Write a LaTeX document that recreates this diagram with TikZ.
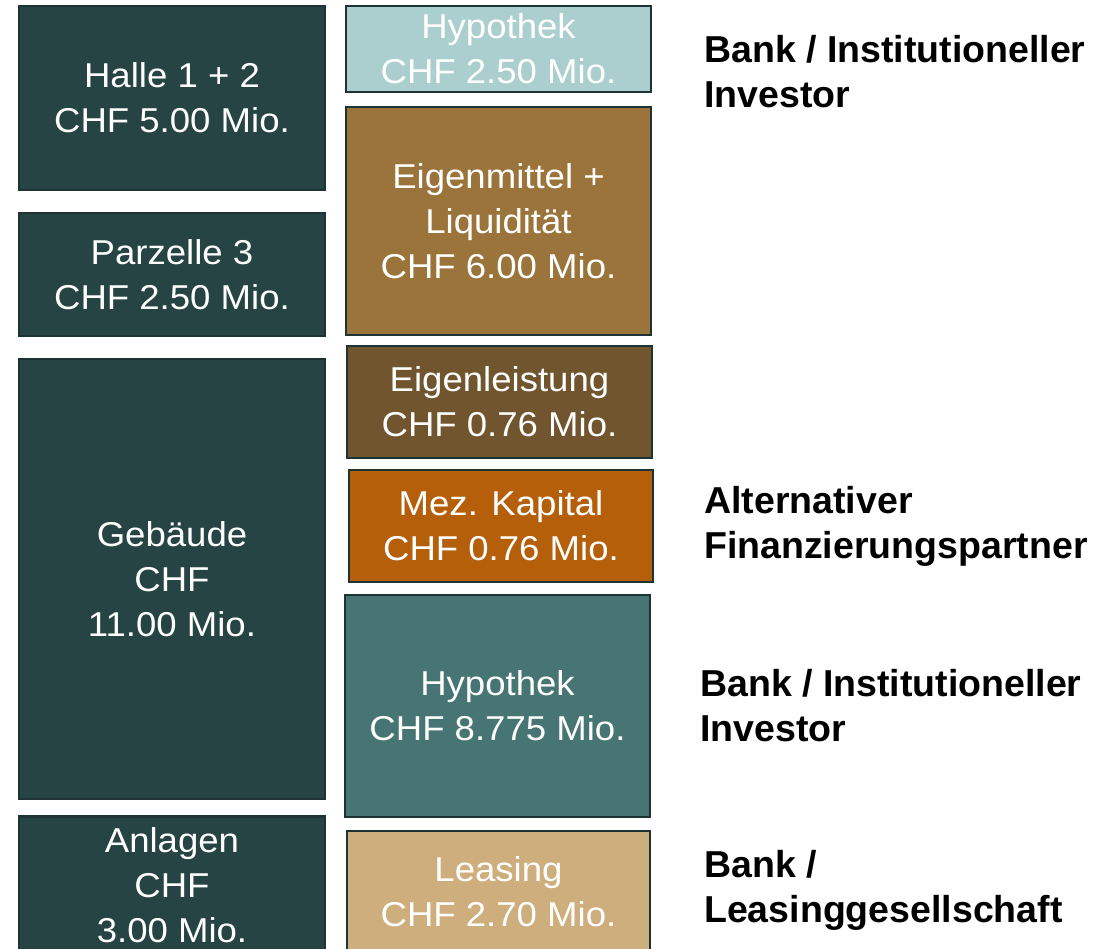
\documentclass[tikz,border=0pt]{standalone}
\usepackage{fontspec}
\setmainfont{Liberation Sans}
\newfontfamily\boxfont[FakeStretch=1.06]{Liberation Sans}
\definecolor{cDark}{HTML}{274444}
\definecolor{cEdge}{HTML}{1E3333}
\definecolor{cHypA}{HTML}{ABCFCF}
\definecolor{cEigen}{HTML}{9B743B}
\definecolor{cLeist}{HTML}{71552F}
\definecolor{cMez}{HTML}{B55F0A}
\definecolor{cHypB}{HTML}{467574}
\definecolor{cLeas}{HTML}{CEAE7D}
\tikzset{
  blk/.style={draw=cEdge, line width=2.5pt, inner sep=0pt, align=center,
    text=white, font={\boxfont\fontsize{34.5}{45}\selectfont}},
  lbl/.style={anchor=west, align=left, inner sep=0pt, text=black,
    font={\bfseries\fontsize{37.5}{45}\selectfont}}
}
\begin{document}
\begin{tikzpicture}[x=1pt, y=-1pt]
\useasboundingbox (0,0) rectangle (1119,948);
\begin{scope}
\clip (0,0) rectangle (1119,948);
% uses of funds
\node[blk, fill=cDark, minimum width=306, minimum height=184] (halle) at (172,98) {Halle 1 + 2\\CHF 5.00 Mio.};
\node[blk, fill=cDark, minimum width=306, minimum height=123] (parz) at (172,274.5) {Parzelle 3\\CHF 2.50 Mio.};
\node[blk, fill=cDark, minimum width=306, minimum height=440] (geb) at (172,579) {Gebäude\\CHF\\11.00 Mio.};
\node[blk, fill=cDark, minimum width=306, minimum height=137] (anl) at (172,885) {Anlagen\\CHF\\3.00 Mio.};
% sources of funds
\node[blk, fill=cHypA, minimum width=305, minimum height=86] (hypa) at (498.5,49) {Hypothek\\CHF 2.50 Mio.};
\node[blk, fill=cEigen, minimum width=305, minimum height=228] (eigen) at (498.5,221) {Eigenmittel +\\Liquidität\\CHF 6.00 Mio.};
\node[blk, fill=cLeist, minimum width=305, minimum height=112] (leist) at (499.5,402) {Eigenleistung\\CHF 0.76 Mio.};
\node[blk, fill=cMez, minimum width=304, minimum height=112] (mez) at (501,526) {Mez. Kapital\\CHF 0.76 Mio.};
\node[blk, fill=cHypB, minimum width=305, minimum height=222] (hypb) at (497.5,706) {Hypothek\\CHF 8.775 Mio.};
\node[blk, fill=cLeas, minimum width=303, minimum height=122] (leas) at (498.5,892) {Leasing\\CHF 2.70 Mio.};
\end{scope}
% financing partners
\node[lbl] (p1) at (704,72) {Bank / Institutioneller\\Investor};
\node[lbl] (p2) at (704,526) {Alternativer\\Finanzierungspartner};
\node[lbl] (p3) at (700,706) {Bank / Institutioneller\\Investor};
\node[lbl] (p4) at (704,890) {Bank /\\Leasinggesellschaft};
\end{tikzpicture}
\end{document}
